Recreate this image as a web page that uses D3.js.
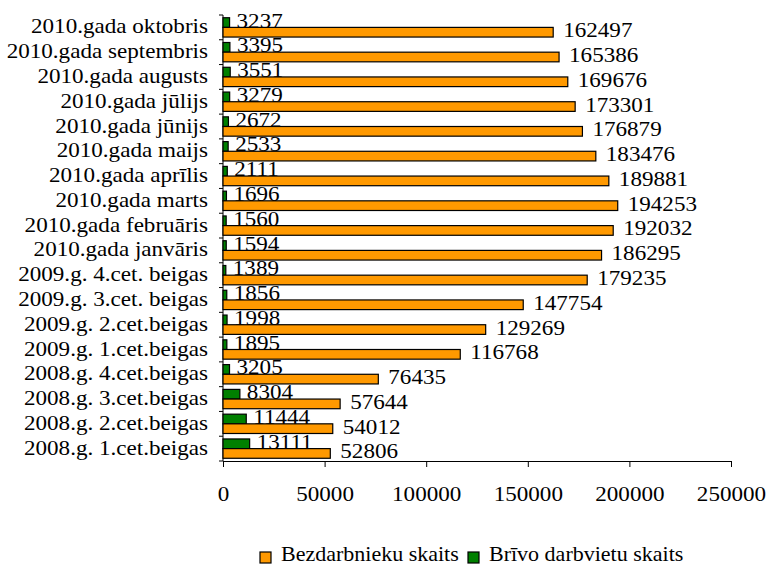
<!DOCTYPE html>
<html>
<head>
<meta charset="utf-8">
<script src="https://cdn.jsdelivr.net/npm/d3@7"></script>
<style>
  body { margin: 0; background: #fff; }
</style>
</head>
<body>
<svg id="chart" width="770" height="565"></svg>
<script>
// chart data, top to bottom
const categories = [
  "2010.gada oktobris", "2010.gada septembris", "2010.gada augusts", "2010.gada jūlijs",
  "2010.gada jūnijs", "2010.gada maijs", "2010.gada aprīlis", "2010.gada marts",
  "2010.gada februāris", "2010.gada janvāris", "2009.g. 4.cet. beigas", "2009.g. 3.cet. beigas",
  "2009.g. 2.cet.beigas", "2009.g. 1.cet.beigas", "2008.g. 4.cet.beigas", "2008.g. 3.cet.beigas",
  "2008.g. 2.cet.beigas", "2008.g. 1.cet.beigas"
];
const unemployed = [162497, 165386, 169676, 173301, 176879, 183476, 189881, 194253, 192032,
  186295, 179235, 147754, 129269, 116768, 76435, 57644, 54012, 52806];
const vacancies = [3237, 3395, 3551, 3279, 2672, 2533, 2111, 1696, 1560,
  1594, 1389, 1856, 1998, 1895, 3205, 8304, 11444, 13111];
const xTicks = [0, 50000, 100000, 150000, 200000, 250000];
const seriesNames = ["Bezdarbnieku skaits", "Brīvo darbvietu skaits"];
const seriesColors = ["#ff9900", "#008000"];

const svg = d3.select("#chart");
const plotL = 223, plotR = 731, plotT = 15, plotB = 461;
const stretch = 1.05; // reference text is a bit wide

// serif text look, applied inline
function serif(sel) {
  sel.style("font-family", "Liberation Serif")
    .style("font-size", "22px")
    .style("fill", "#000");
}

// put a text at (fx, fy) with a slight horizontal stretch
function place(sel, fx, fy) {
  sel.attr("transform", (d, i) => `translate(${fx(d, i)},${fy(d, i)}) scale(${stretch},1)`);
}

const x = d3.scaleLinear().domain([0, 250000]).range([plotL, plotR]);
const y = d3.scaleBand().domain(categories).range([plotT, plotB]).paddingInner(0.22).paddingOuter(0.11);
const sub = d3.scaleBand().domain(["vac", "unemp"]).range([0, y.bandwidth()]);
const step = y.step();
const bandTop = d => y(d) - step * y.paddingOuter();

// y axis line with ticks between categories
svg.append("line")
  .attr("x1", plotL).attr("x2", plotL).attr("y1", plotT).attr("y2", plotB)
  .attr("stroke", "#000");
d3.range(categories.length + 1).forEach(i => {
  svg.append("line")
    .attr("x1", plotL - 4).attr("x2", plotL)
    .attr("y1", plotT + i * step).attr("y2", plotT + i * step)
    .attr("stroke", "#000");
});

// x axis
const xAxis = d3.axisBottom(x).tickValues(xTicks).tickSize(6).tickPadding(18).tickFormat(d3.format("d"));
const gx = svg.append("g").attr("transform", `translate(0,${plotB})`).call(xAxis);
gx.select(".domain").attr("stroke", "#000");
gx.selectAll("line").attr("stroke", "#000");
gx.selectAll("text").call(serif).attr("transform", `scale(${stretch},1)`);

// category labels
svg.selectAll(".cat").data(categories).join("text")
  .attr("class", "cat")
  .attr("text-anchor", "end")
  .text(d => d)
  .call(serif)
  .call(place, () => 208, d => bandTop(d) + step / 2 + 6);

// green bars + labels (orange bars drawn after, covering label bottoms)
svg.selectAll(".vac").data(vacancies).join("rect")
  .attr("class", "vac")
  .attr("x", x(0))
  .attr("y", (d, i) => y(categories[i]) + sub("vac"))
  .attr("width", d => x(d) - x(0))
  .attr("height", sub.bandwidth())
  .attr("fill", seriesColors[1]).attr("stroke", "#000").attr("stroke-width", 1.2);

svg.selectAll(".vacl").data(vacancies).join("text")
  .attr("class", "vacl")
  .text(d => d)
  .call(serif)
  .call(place, d => x(d) + 7, (d, i) => y(categories[i]) + sub("vac") + sub.bandwidth() / 2 + 5);

svg.selectAll(".unemp").data(unemployed).join("rect")
  .attr("class", "unemp")
  .attr("x", x(0))
  .attr("y", (d, i) => y(categories[i]) + sub("unemp"))
  .attr("width", d => x(d) - x(0))
  .attr("height", sub.bandwidth())
  .attr("fill", seriesColors[0]).attr("stroke", "#000").attr("stroke-width", 1.2);

svg.selectAll(".unempl").data(unemployed).join("text")
  .attr("class", "unempl")
  .text(d => d)
  .call(serif)
  .call(place, d => x(d) + 10, (d, i) => y(categories[i]) + sub("unemp") + sub.bandwidth() / 2 + 5);

// legend
const legendX = [260, 468];
seriesNames.forEach((name, i) => {
  svg.append("rect")
    .attr("x", legendX[i]).attr("y", 552).attr("width", 11).attr("height", 11)
    .attr("fill", seriesColors[i]).attr("stroke", "#000").attr("stroke-width", 1.2);
  svg.append("text")
    .attr("x", legendX[i] + 21).attr("y", 561)
    .text(name)
    .call(serif);
});
</script>
</body>
</html>
